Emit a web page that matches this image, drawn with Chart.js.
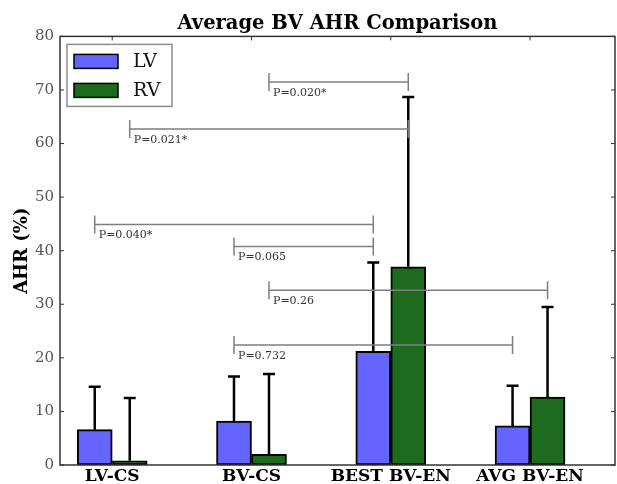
<!DOCTYPE html>
<html>
<head>
<meta charset="utf-8">
<title>Average BV AHR Comparison</title>
<script src="https://cdn.jsdelivr.net/npm/chart.js@4/dist/chart.umd.min.js"></script>
<style>
  html, body { margin: 0; padding: 0; background: #fff; }
  #wrap { width: 617px; height: 484px; }
</style>
</head>
<body>
<div id="wrap"><canvas id="myChart"></canvas></div>
<script>
var categories = ["LV-CS", "BV-CS", "BEST BV-EN", "AVG BV-EN"];
var lvMean = [6.6, 8.2, 21.2, 7.3];
var lvErr  = [8.0, 8.3, 16.6, 7.5];
var rvMean = [0.8, 2.0, 37.0, 12.7];
var rvErr  = [11.7, 15.0, 31.7, 16.8];
var yTicks = [0, 10, 20, 30, 40, 50, 60, 70, 80];

// significance brackets, each end is [category index, series index]
var sigLabels = ["P=0.020*", "P=0.021*", "P=0.040*", "P=0.065", "P=0.26", "P=0.732"];
var sigFrom   = [[1, 1], [0, 1], [0, 0], [1, 0], [1, 1], [1, 0]];
var sigTo     = [[2, 1], [2, 1], [2, 0], [2, 0], [3, 1], [3, 0]];
var sigY      = [71.5, 62.7, 44.9, 40.8, 32.6, 22.4];

var serif = "'DejaVu Serif', serif";

function points(values) {
    return values.map(function (v, i) { return { x: i, y: v }; });
}

// one-sided error bars on top of each bar
var errorBars = {
    id: 'errorBars',
    afterDatasetsDraw: function (chart) {
        var ctx = chart.ctx;
        var y = chart.scales.y;
        ctx.save();
        ctx.strokeStyle = '#000';
        ctx.lineWidth = 2.5;
        chart.data.datasets.forEach(function (ds, d) {
            chart.getDatasetMeta(d).data.forEach(function (bar, i) {
                var top = y.getPixelForValue(ds.data[i].y + ds.errors[i]);
                ctx.beginPath();
                ctx.moveTo(bar.x, bar.y);
                ctx.lineTo(bar.x, top);
                ctx.moveTo(bar.x - 6, top);
                ctx.lineTo(bar.x + 6, top);
                ctx.stroke();
            });
        });
        ctx.restore();
    }
};

// p-value brackets between bars
var brackets = {
    id: 'brackets',
    afterDatasetsDraw: function (chart) {
        var ctx = chart.ctx;
        var y = chart.scales.y;
        ctx.save();
        ctx.strokeStyle = '#7f7f7f';
        ctx.lineWidth = 1.5;
        ctx.font = '11px ' + serif;
        ctx.fillStyle = '#333';
        ctx.textBaseline = 'middle';
        sigLabels.forEach(function (label, k) {
            var x1 = chart.getDatasetMeta(sigFrom[k][1]).data[sigFrom[k][0]].x;
            var x2 = chart.getDatasetMeta(sigTo[k][1]).data[sigTo[k][0]].x;
            var py = y.getPixelForValue(sigY[k]);
            ctx.beginPath();
            ctx.moveTo(x1, py); ctx.lineTo(x2, py);
            ctx.moveTo(x1, py - 9); ctx.lineTo(x1, py + 9);
            ctx.moveTo(x2, py - 9); ctx.lineTo(x2, py + 9);
            ctx.stroke();
            ctx.fillText(label, x1 + 4, py + 11);
        });
        ctx.restore();
    }
};

// matplotlib style box with inward ticks, plus the legend inside the plot
var frameAndLegend = {
    id: 'frameAndLegend',
    afterDraw: function (chart) {
        var ctx = chart.ctx;
        var a = chart.chartArea;
        var xs = chart.scales.x, ys = chart.scales.y;
        ctx.save();
        ctx.strokeStyle = '#333';
        ctx.lineWidth = 1.5;
        ctx.strokeRect(a.left, a.top, a.right - a.left, a.bottom - a.top);
        ctx.lineWidth = 1;
        ctx.beginPath();
        xs.ticks.forEach(function (t) {
            var px = xs.getPixelForValue(t.value);
            ctx.moveTo(px, a.top); ctx.lineTo(px, a.top + 4);
            ctx.moveTo(px, a.bottom); ctx.lineTo(px, a.bottom - 4);
        });
        ys.ticks.forEach(function (t) {
            var py = ys.getPixelForValue(t.value);
            ctx.moveTo(a.left, py); ctx.lineTo(a.left + 4, py);
            ctx.moveTo(a.right, py); ctx.lineTo(a.right - 4, py);
        });
        ctx.stroke();

        // legend
        var lx = a.left + 7, ly = a.top + 8;
        ctx.fillStyle = '#fff';
        ctx.fillRect(lx, ly, 105, 62);
        ctx.strokeStyle = '#8c8c8c';
        ctx.lineWidth = 1.5;
        ctx.strokeRect(lx, ly, 105, 62);
        ctx.font = '19px ' + serif;
        ctx.textBaseline = 'middle';
        chart.data.datasets.forEach(function (ds, d) {
            var sy = ly + 10 + d * 29;
            ctx.fillStyle = ds.backgroundColor;
            ctx.fillRect(lx + 7, sy, 44, 14);
            ctx.strokeStyle = '#000';
            ctx.lineWidth = 1.5;
            ctx.strokeRect(lx + 7, sy, 44, 14);
            ctx.fillStyle = '#111';
            ctx.fillText(ds.label, lx + 66, sy + 8);
        });
        ctx.restore();
    }
};

var ctx = document.getElementById('myChart').getContext('2d');
var chart = new Chart(ctx, {
    type: 'bar',
    data: {
        datasets: [{
            label: 'LV',
            data: points(lvMean),
            errors: lvErr,
            backgroundColor: '#6464ff',
            borderColor: '#000',
            borderWidth: 2,
            borderSkipped: false
        }, {
            label: 'RV',
            data: points(rvMean),
            errors: rvErr,
            backgroundColor: '#1c6b1e',
            borderColor: '#000',
            borderWidth: 2,
            borderSkipped: false
        }]
    },
    options: {
        responsive: true,
        maintainAspectRatio: false,
        animation: false,
        layout: { padding: { left: 0, right: 2, top: 0, bottom: 0 } },
        barThickness: 35,
        plugins: {
            legend: { display: false },
            tooltip: { enabled: false },
            title: {
                display: true,
                text: 'Average BV AHR Comparison',
                fullSize: false,
                color: '#000',
                font: { family: serif, size: 19.5, weight: 'bold' },
                padding: { top: 12, bottom: 1 }
            }
        },
        scales: {
            x: {
                type: 'linear',
                offset: false,
                min: -0.375,
                max: 3.61,
                grid: { display: false, drawTicks: false, offset: false },
                border: { display: false },
                afterBuildTicks: function (s) {
                    s.ticks = categories.map(function (c, i) { return { value: i }; });
                },
                afterFit: function (s) { s.height = 19; },
                ticks: {
                    padding: 1,
                    color: '#000',
                    font: { family: serif, size: 17, weight: 'bold' },
                    callback: function (v) { return categories[v]; }
                }
            },
            y: {
                min: 0,
                max: 80,
                grid: { display: false, drawTicks: false },
                border: { display: false },
                afterBuildTicks: function (s) {
                    s.ticks = yTicks.map(function (v) { return { value: v }; });
                },
                afterFit: function (s) { s.width = 60; },
                ticks: {
                    padding: 6,
                    color: '#555',
                    font: { family: serif, size: 15 }
                },
                title: {
                    display: true,
                    text: 'AHR (%)',
                    color: '#000',
                    font: { family: serif, size: 18, weight: 'bold' },
                    padding: { top: 12, bottom: 0 }
                }
            }
        }
    },
    plugins: [errorBars, brackets, frameAndLegend]
});
</script>
</body>
</html>
